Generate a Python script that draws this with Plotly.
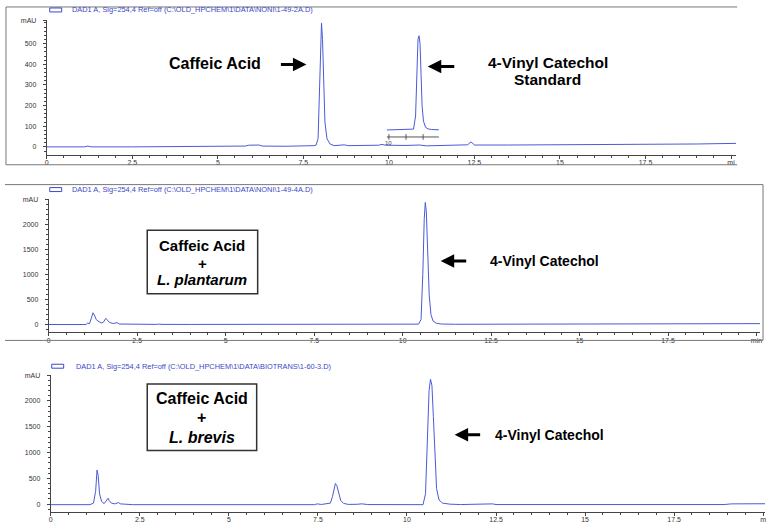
import plotly.graph_objects as go

W, H = 771, 524

# ---------------- data ----------------
# Panel 1: standards run (time in min, absorbance in mAU)
std_time = [0, 1.1, 1.2, 1.3, 2.5, 5.0, 5.3, 5.8, 5.9, 6.2, 6.3, 7.0, 7.8, 7.87, 7.93, 7.97,
            8.01, 8.03, 8.06, 8.09, 8.13, 8.19, 8.28, 8.4, 8.7, 8.8, 9.7, 9.8, 9.9, 10.5,
            10.9, 11.1, 11.5, 12.3, 12.4, 12.5, 13.5, 15.0, 16.0, 16.1, 17.5, 19.0, 20.15]
std_mAU = [0, 0, 4, 0, 0, 1, 3, 4, 8, 9, 4, 3, 6, 8, 40, 300,
           580, 600, 520, 320, 120, 40, 14, 6, 10, 6, 8, 12, 8, 7,
           9, 5, 7, 10, 24, 9, 9, 10, 12, 9, 12, 14, 17]

# Panel 1 overlay: 4-vinyl catechol standard (inset)
ins_time = [9.94, 10.5, 10.72, 10.78, 10.82, 10.85, 10.88, 10.91, 10.94, 10.97, 11.01,
            11.07, 11.15, 11.25, 11.46]
ins_mAU = [82, 83, 86, 150, 380, 520, 538, 500, 350, 200, 125, 95, 87, 84, 83]
ins_axis_level = 48
ins_ticks = [10, 10.5, 11]

# Panel 2: caffeic acid + L. plantarum
pla_time = [0, 1.05, 1.1, 1.15, 1.2, 1.25, 1.29, 1.34, 1.42, 1.5, 1.56, 1.61, 1.65, 1.72,
            1.82, 1.89, 1.93, 2.0, 2.3, 2.4, 2.5, 2.7, 2.75, 2.85, 3.05, 3.12, 3.2, 4.0,
            8.0, 8.1, 8.3, 8.6, 8.75, 8.9, 9.4, 9.55, 9.7, 10.0, 10.45, 10.52, 10.57,
            10.61, 10.64, 10.67, 10.71, 10.75, 10.8, 10.86, 10.95, 11.1, 11.5, 12.3, 12.4,
            12.5, 15.0, 19.0, 19.2, 20.1]
pla_mAU = [0, 0, 30, 15, 120, 235, 190, 100, 55, 30, 60, 125, 95, 40,
           20, 40, 38, 10, 4, 12, 3, 3, 9, 3, 3, 9, 3, 2,
           3, 10, 4, 4, 10, 4, 4, 10, 5, 6, 8, 100, 1000,
           2100, 2440, 2250, 1400, 600, 200, 70, 25, 10, 5, 5, 14,
           5, 5, 5, 18, 18]

# Panel 3: caffeic acid + L. brevis
bre_time = [0, 1.1, 1.2, 1.26, 1.3, 1.33, 1.37, 1.43, 1.5, 1.56, 1.61, 1.64, 1.7, 1.8,
            1.87, 1.9, 1.96, 2.2, 2.24, 2.3, 7.4, 7.48, 7.6, 7.85, 7.91, 7.96, 7.99,
            8.03, 8.08, 8.14, 8.22, 8.35, 8.6, 8.73, 8.9, 10.45, 10.52, 10.57, 10.62,
            10.66, 10.7, 10.74, 10.78, 10.83, 10.9, 11.0, 11.2, 11.5, 12.4, 12.5, 18.9,
            19.1, 20.05]
bre_mAU = [-10, -10, 20, 250, 660, 560, 200, 50, 10, 60, 115, 70, 20, 5,
           28, 30, 5, -5, 5, -10, -10, 5, -6, 20, 150, 360, 400,
           360, 200, 70, 15, -5, -3, 6, -8, -10, 200, 1200, 2200,
           2420, 2300, 1700, 900, 300, 80, 20, 0, -8, 5, -8, -8,
           5, 8]

x_ticks = [0, 2.5, 5, 7.5, 10, 12.5, 15, 17.5, 20]
x_ticktext_1 = ["0", "2.5", "5", "7.5", "10", "12.5", "15", "17.5", "mi"]
x_ticktext_2 = ["0", "2.5", "5", "7.5", "10", "12.5", "15", "17.5", "min"]
x_ticktext_3 = ["0", "2.5", "5", "7.5", "10", "12.5", "15", "17.5", "m"]
y_ticks_1 = [0, 100, 200, 300, 400, 500, 610]
y_ticktext_1 = ["0", "100", "200", "300", "400", "500", "mAU"]
y_ticks_23 = [0, 500, 1000, 1500, 2000, 2500]
y_ticktext_23 = ["0", "500", "1000", "1500", "2000", "mAU"]

titles = [
    "DAD1 A, Sig=254,4 Ref=off (C:\\OLD_HPCHEM\\1\\DATA\\NONI\\1-49-2A.D)",
    "DAD1 A, Sig=254,4 Ref=off (C:\\OLD_HPCHEM\\1\\DATA\\NONI\\1-49-4A.D)",
    "DAD1 A, Sig=254,4 Ref=off (C:\\OLD_HPCHEM\\1\\DATA\\BIOTRANS\\1-60-3.D)",
]

# ---------------- style ----------------
TRACE = "#4a5ad8"
TITLE_C = "#3a48c8"
AXIS_C = "#444444"
FRAME_C = "#777777"
FONT = "Liberation Sans, Arial, sans-serif"


def X(px):
    return px / W


def Y(py):
    return 1 - py / H


fig = go.Figure()
fig.add_trace(go.Scatter(x=std_time, y=std_mAU, mode="lines", xaxis="x", yaxis="y",
                         line=dict(color=TRACE, width=1), showlegend=False))
fig.add_trace(go.Scatter(x=ins_time, y=ins_mAU, mode="lines", xaxis="x", yaxis="y",
                         line=dict(color=TRACE, width=1), showlegend=False))
fig.add_trace(go.Scatter(x=[ins_time[0], ins_time[-1]], y=[ins_axis_level] * 2, mode="lines",
                         xaxis="x", yaxis="y", line=dict(color="#555555", width=1),
                         showlegend=False))
fig.add_trace(go.Scatter(x=ins_ticks, y=[ins_axis_level] * len(ins_ticks), mode="markers",
                         xaxis="x", yaxis="y",
                         marker=dict(symbol="line-ns", size=4, line=dict(color="#555555", width=1)),
                         showlegend=False))
fig.add_trace(go.Scatter(x=pla_time, y=pla_mAU, mode="lines", xaxis="x2", yaxis="y2",
                         line=dict(color=TRACE, width=1), showlegend=False))
fig.add_trace(go.Scatter(x=bre_time, y=bre_mAU, mode="lines", xaxis="x3", yaxis="y3",
                         line=dict(color=TRACE, width=1), showlegend=False))


def xax(dom, rng, ticktext, anchor):
    return dict(domain=[X(dom[0]), X(dom[1])], range=rng, anchor=anchor,
                tickmode="array", tickvals=x_ticks, ticktext=ticktext,
                showline=True, linecolor=AXIS_C, linewidth=1, mirror=False,
                ticks="outside", ticklen=3, tickcolor=AXIS_C, showgrid=False, zeroline=False,
                ticklabelstandoff=-2,
                tickfont=dict(family=FONT, size=7, color="#333333"),
                minor=dict(ticks="outside", dtick=0.5, ticklen=2, tickcolor=AXIS_C, showgrid=False))


def yax(dom, rng, tv, tt, mdt, anchor):
    return dict(domain=[Y(dom[1]), Y(dom[0])], range=rng, anchor=anchor,
                tickmode="array", tickvals=tv, ticktext=tt,
                showline=True, linecolor=AXIS_C, linewidth=1,
                ticks="outside", ticklen=3, tickcolor=AXIS_C, showgrid=False, zeroline=False,
                ticklabelstandoff=5,
                tickfont=dict(family=FONT, size=7, color="#333333"),
                minor=dict(ticks="outside", dtick=mdt, ticklen=2, tickcolor=AXIS_C, showgrid=False))


fig.update_layout(
    width=W, height=H, margin=dict(l=0, r=0, t=0, b=0),
    paper_bgcolor="white", plot_bgcolor="white", showlegend=False,
    xaxis=xax((45, 738), [0, 20.15], x_ticktext_1, "y"),
    yaxis=yax((16.6, 152), [-38.5, 612], y_ticks_1, y_ticktext_1, 20, "x"),
    xaxis2=xax((47, 762), [0, 20.1], x_ticktext_2, "y2"),
    yaxis2=yax((197, 331), [-159, 2500], y_ticks_23, y_ticktext_23, 100, "x2"),
    xaxis3=xax((49, 767), [0, 20.05], x_ticktext_3, "y3"),
    yaxis3=yax((374, 512), [-154, 2500], y_ticks_23, y_ticktext_23, 100, "x3"),
)

shapes = []


def pline(x0, y0, x1, y1, color=FRAME_C, width=1):
    shapes.append(dict(type="line", xref="paper", yref="paper", x0=X(x0), y0=Y(y0),
                       x1=X(x1), y1=Y(y1), line=dict(color=color, width=width)))


# panel frames
pline(4, 3, 739, 3)
pline(4, 3, 4, 162)
pline(4, 162, 739, 162)
pline(3, 182, 765, 182)
pline(765, 182, 765, 339)
pline(3, 339, 765, 339)

# legend swatches beside the signal titles
for (x0, y0) in [(48, 4), (48, 185), (50, 363)]:
    shapes.append(dict(type="rect", xref="paper", yref="paper", x0=X(x0), x1=X(x0 + 12),
                       y0=Y(y0), y1=Y(y0 + 4), line=dict(color=TITLE_C, width=1)))

# label boxes
shapes.append(dict(type="rect", xref="paper", yref="paper", x0=X(146), x1=X(257),
                   y0=Y(228), y1=Y(292), line=dict(color="#333333", width=1.5),
                   fillcolor="white"))
shapes.append(dict(type="rect", xref="paper", yref="paper", x0=X(146), x1=X(256),
                   y0=Y(383), y1=Y(450), line=dict(color="#333333", width=1.5),
                   fillcolor="white"))

annotations = []


def text(px, py, s, size, xanchor="center", color="black", family=FONT):
    annotations.append(dict(xref="paper", yref="paper", x=X(px), y=Y(py), text=s,
                            showarrow=False, xanchor=xanchor, yanchor="middle",
                            font=dict(family=family, size=size, color=color)))


def arrow(tip_x, tip_y, length):
    annotations.append(dict(xref="paper", yref="paper", x=X(tip_x), y=Y(tip_y), text="",
                            showarrow=True, axref="pixel", ayref="pixel", ax=length, ay=0,
                            arrowhead=2, arrowsize=0.9, arrowwidth=3, arrowcolor="black",
                            standoff=0))


# signal titles
text(68, 6, titles[0], 7.4, xanchor="left", color=TITLE_C)
text(68, 187, titles[1], 7.4, xanchor="left", color=TITLE_C)
text(72, 365, titles[2], 7.4, xanchor="left", color=TITLE_C)

# inset axis label
annotations.append(dict(xref="x", yref="y", x=ins_ticks[0], y=ins_axis_level, text="10",
                        showarrow=False, yanchor="top", yshift=-1,
                        font=dict(family=FONT, size=6, color="#444444")))

# panel 1 labels
text(214, 60, "<b>Caffeic Acid</b>", 16)
arrow(306, 61, -27)
text(549, 59, "<b>4-Vinyl Catechol</b>", 15.5)
text(548, 76, "<b>Standard</b>", 15.5)
arrow(428, 63, 28)

# panel 2 labels
text(201.5, 243, "<b>Caffeic Acid</b>", 15)
text(201.5, 261, "<b>+</b>", 15)
text(201.5, 278, "<b><i>L. plantarum</i></b>", 15)
text(545, 259, "<b>4-Vinyl Catechol</b>", 14)
arrow(441, 259, 27)

# panel 3 labels
text(201, 398, "<b>Caffeic Acid</b>", 16)
text(201, 417, "<b>+</b>", 16)
text(201, 437, "<b><i>L. brevis</i></b>", 16)
text(550.5, 434, "<b>4-Vinyl Catechol</b>", 14)
arrow(455, 434, 27)

fig.update_layout(shapes=shapes, annotations=annotations)
fig.write_html("out.html", config={"displayModeBar": False},
               post_script="document.body.style.margin='0';document.body.style.overflow='hidden';")
